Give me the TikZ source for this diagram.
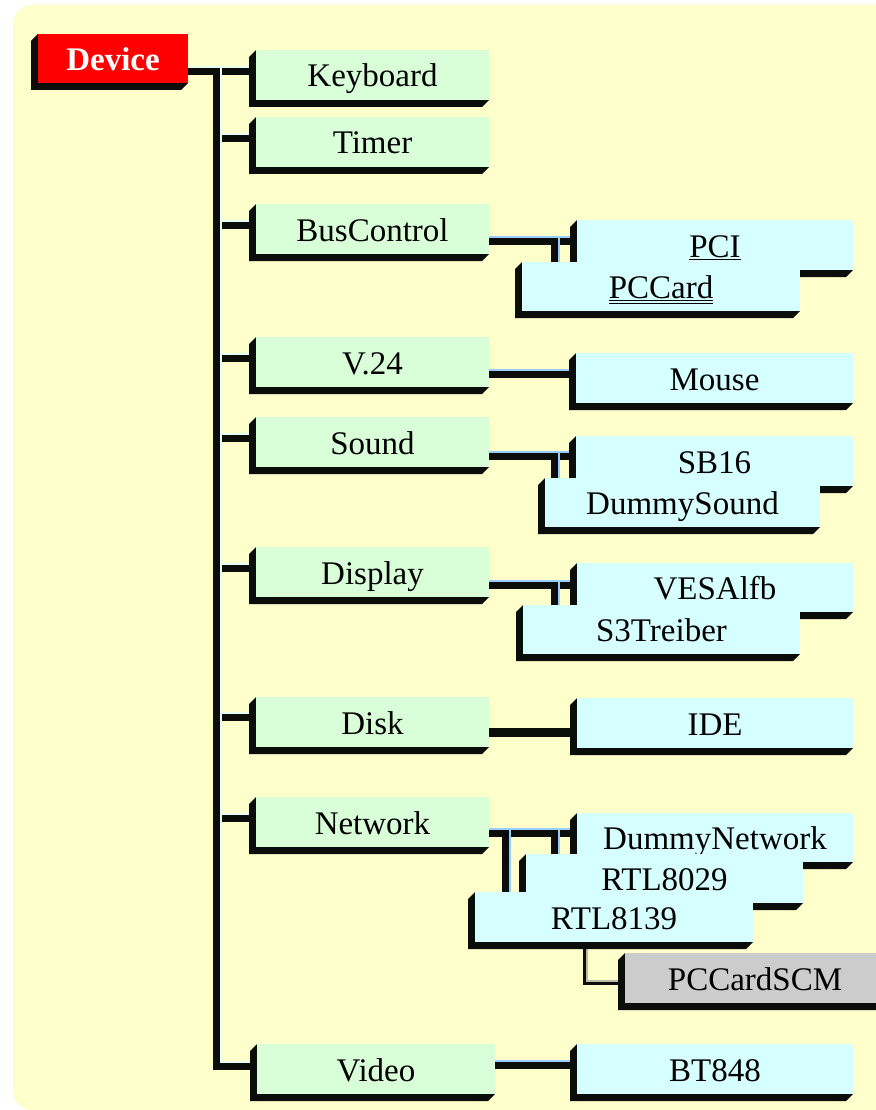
\documentclass[tikz,border=0pt]{standalone}
\usepackage{fontspec}
\setmainfont{Liberation Serif}
\usetikzlibrary{calc}
\definecolor{bgy}{HTML}{FFFFCC}
\definecolor{grn}{HTML}{D8FFD8}
\definecolor{cyn}{HTML}{D6FFFF}
\definecolor{gry}{HTML}{CCCCCC}
\definecolor{shd}{HTML}{0A0D0A}
\definecolor{lblue}{HTML}{99CCFF}
\definecolor{lmint}{HTML}{E8FFF4}
\definecolor{lgray}{HTML}{BEB8A8}
\definecolor{devred}{HTML}{FF0000}
\pgfdeclarelayer{back}
\pgfdeclarelayer{shad}
\pgfdeclarelayer{lines}
\pgfsetlayers{back,shad,lines,main}
\newcommand\myuline[1]{\leavevmode\setbox0\hbox{#1}\rlap{\lower3pt\hbox{\vrule width\wd0 height 1.3pt depth 0pt}}\box0}
\newcommand\myuuline[1]{\leavevmode\setbox0\hbox{#1}\rlap{\lower2.8pt\hbox{\vrule width\wd0 height 1.2pt depth 0pt}}\rlap{\lower5.3pt\hbox{\vrule width\wd0 height 1.2pt depth 0pt}}\box0}
\newcommand\cnx[3]{%
  \begin{pgfonlayer}{shad}\draw[#1] #3;\end{pgfonlayer}%
  \begin{pgfonlayer}{lines}\draw[#2, line width=1.3pt] #3;\end{pgfonlayer}}
\tikzset{
  box3d/.style={rectangle, inner sep=0pt, outer sep=0pt,
    font=\fontsize{33}{36}\selectfont, text height=24.5pt, text depth=0.5pt,
    append after command={\pgfextra{%
      \fill[shd] (\tikzlastnode.north west) -- ++(-7pt,-7pt)
        -- ([shift={(-7pt,-7pt)}]\tikzlastnode.south west)
        -- ([shift={(-7pt,-7pt)}]\tikzlastnode.south east)
        -- (\tikzlastnode.south east) -- (\tikzlastnode.south west) -- cycle;}}},
  gbox/.style={box3d, fill=grn, minimum width=233pt, minimum height=50pt},
  cbox/.style={box3d, fill=cyn, minimum height=50pt},
  sbox/.style={box3d, fill=gry, minimum height=50pt},
  dbox/.style={box3d, fill=devred, text=white, font=\fontsize{33}{36}\selectfont\bfseries},
  sh8/.style={draw=shd, line width=8pt, transform canvas={shift={(-4pt,-4pt)}}},
  sh5/.style={draw=shd, line width=4.5pt, transform canvas={shift={(-2.2pt,-2.2pt)}}},
}
\begin{document}
\begin{tikzpicture}[x=1pt,y=-1pt]
\useasboundingbox (0,0) rectangle (875,1110);
\begin{pgfonlayer}{back}
\fill[bgy, rounded corners=20pt] (13,5) rectangle (930,1110);
\end{pgfonlayer}

% root
\node[dbox, minimum width=150pt, minimum height=49pt] (dev) at (113,58.5) {Device};

% first level
\node[gbox] (kbd) at (372.5,75) {Keyboard};
\node[gbox] (tim) at (372.5,142) {Timer};
\node[gbox] (bus) at (372.5,229) {BusControl};
\node[gbox] (v24) at (372.5,362) {V.24};
\node[gbox] (snd) at (372.5,442) {Sound};
\node[gbox] (dsp) at (372.5,572) {Display};
\node[gbox] (dsk) at (372.5,722) {Disk};
\node[gbox] (net) at (372.5,822) {Network};
\node[gbox, minimum width=238pt] (vid) at (376,1069) {Video};

% second level
\node[cbox, minimum width=276pt] (pci) at (715,245) {\myuline{PCI}};
\node[cbox, minimum width=278pt, minimum height=49pt] (pcc) at (661,286.5) {\myuuline{PCCard}};
\node[cbox, minimum width=277pt] (mouse) at (714.5,378) {Mouse};
\node[cbox, minimum width=277pt] (sb16) at (714.5,461) {SB16};
\node[cbox, minimum width=275pt, minimum height=49pt] (dsnd) at (682.5,502.5) {DummySound};
\node[cbox, minimum width=276pt, minimum height=49pt] (vesa) at (715,587.5) {VESAlfb};
\node[cbox, minimum width=277pt, minimum height=49pt] (s3) at (661.5,629.5) {S3Treiber};
\node[cbox, minimum width=276pt] (ide) at (715,723) {IDE};
\node[cbox, minimum width=276pt, minimum height=49pt] (dnet) at (715,837.5) {DummyNetwork};
\node[cbox, minimum width=277pt, minimum height=49pt] (r29) at (664.5,878.5) {RTL8029};
\node[cbox, minimum width=278pt] (r39) at (614,917) {RTL8139};
\node[sbox, minimum width=260pt] (scm) at (755,978) {PCCardSCM};
\node[cbox, minimum width=276pt] (bt) at (715,1069) {BT848};

% main tree
\coordinate (j0) at (221,67);
\coordinate (jb) at (221,1062);
\cnx{sh8}{lmint}{(dev.east |- j0) -- (j0)}
\cnx{sh8}{lmint}{(j0) -- (jb) -- (jb -| vid.west)}
\coordinate (k1) at (221,67);
\coordinate (k2) at (221,134);
\coordinate (k3) at (221,221);
\coordinate (k4) at (221,354);
\coordinate (k5) at (221,434);
\coordinate (k6) at (221,564);
\coordinate (k7) at (221,713);
\coordinate (k8) at (221,814);
\cnx{sh8}{lmint}{(k1) -- (k1 -| kbd.west)}
\cnx{sh8}{lmint}{(k2) -- (k2 -| tim.west)}
\cnx{sh8}{lmint}{(k3) -- (k3 -| bus.west)}
\cnx{sh8}{lmint}{(k4) -- (k4 -| v24.west)}
\cnx{sh8}{lmint}{(k5) -- (k5 -| snd.west)}
\cnx{sh8}{lmint}{(k6) -- (k6 -| dsp.west)}
\cnx{sh8}{lmint}{(k7) -- (k7 -| dsk.west)}
\cnx{sh8}{lmint}{(k8) -- (k8 -| net.west)}

% sub connectors
\coordinate (b1) at (559,237);
\cnx{sh8}{lblue}{(bus.east |- b1) -- (b1 -| pci.west)}
\cnx{sh8}{lblue}{(b1) -- (b1 |- pcc.north)}
\coordinate (b2) at (559,370);
\cnx{sh8}{lblue}{(v24.east |- b2) -- (b2 -| mouse.west)}
\coordinate (b3) at (559,452);
\cnx{sh8}{lblue}{(snd.east |- b3) -- (b3 -| sb16.west)}
\cnx{sh8}{lblue}{(b3) -- (b3 |- dsnd.north)}
\coordinate (b4) at (559,581);
\cnx{sh8}{lblue}{(dsp.east |- b4) -- (b4 -| vesa.west)}
\cnx{sh8}{lblue}{(b4) -- (b4 |- s3.north)}
\coordinate (b5) at (559,729);
\cnx{sh8}{shd}{(dsk.east |- b5) -- (b5 -| ide.west)}
\coordinate (b6) at (559,829);
\coordinate (b7) at (510,829);
\cnx{sh8}{lblue}{(net.east |- b6) -- (b6 -| dnet.west)}
\cnx{sh8}{lblue}{(b6) -- (b6 |- r29.north)}
\cnx{sh8}{lblue}{(b7) -- (b7 |- r39.north)}
\coordinate (b8) at (559,1061);
\cnx{sh8}{lblue}{(vid.east |- b8) -- (b8 -| bt.west)}
\coordinate (b9) at (587,981);
\cnx{sh5}{lgray}{(b9 |- r39.south) -- (b9) -- (b9 -| scm.west)}
\end{tikzpicture}
\end{document}
